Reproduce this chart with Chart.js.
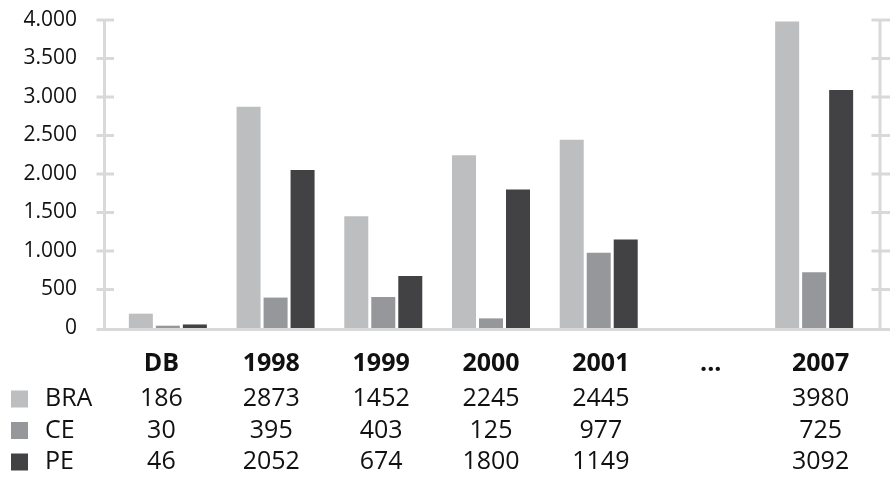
<!DOCTYPE html>
<html>
<head>
<meta charset="utf-8">
<script src="https://cdn.jsdelivr.net/npm/chart.js@4/dist/chart.umd.min.js"></script>
<style>
  html, body { margin: 0; padding: 0; background: #ffffff; }
  #wrap { width: 895px; height: 483px; }
</style>
</head>
<body>
<div id="wrap"><canvas id="c" width="895" height="483"></canvas></div>
<script>
// Categories along the x axis (also the header row of the data table)
const categories = ['DB', '1998', '1999', '2000', '2001', '...', '2007'];

// Series
const seriesNames = ['BRA', 'CE', 'PE'];
const braValues = [186, 2873, 1452, 2245, 2445, null, 3980];
const ceValues  = [30, 395, 403, 125, 977, null, 725];
const peValues  = [46, 2052, 674, 1800, 1149, null, 3092];

// Value axis ticks
const yTicks = [0, 500, 1000, 1500, 2000, 2500, 3000, 3500, 4000];

const seriesColors = ['#bdbec0', '#96979a', '#424244'];
const axisColor = '#d9d9d9';
const textColor = '#111111';
const FONT = '"Open Sans", "Noto Sans", sans-serif';

function fmtThousands(v) {
  return String(v).replace(/\B(?=(\d{3})+(?!\d))/g, '.');
}

// Axis frame with crossing tick marks, plus the data table beneath the plot
const frameAndTable = {
  id: 'frameAndTable',
  afterDatasetsDraw(chart) {
    const { ctx, chartArea, scales } = chart;
    const y = scales.y, x = scales.x;
    const axisL = chartArea.left - 9.5;
    const axisR = chartArea.right + 12;
    const yTop = y.getPixelForValue(yTicks[yTicks.length - 1]);
    const yZero = y.getPixelForValue(0);

    ctx.save();
    ctx.strokeStyle = axisColor;
    ctx.lineWidth = 3;
    ctx.beginPath();
    ctx.moveTo(axisL, yTop - 1.5); ctx.lineTo(axisL, yZero + 1.5);
    ctx.moveTo(axisR, yTop - 1.5); ctx.lineTo(axisR, yZero + 1.5);
    yTicks.forEach(v => {
      if (v === 0) return;
      const py = y.getPixelForValue(v);
      ctx.moveTo(axisL - 8, py); ctx.lineTo(axisL + 9.5, py);
      ctx.moveTo(axisR - 8.5, py); ctx.lineTo(axisR + 10, py);
    });
    ctx.moveTo(axisL - 8, yZero + 1.5); ctx.lineTo(axisR + 10, yZero + 1.5);
    ctx.stroke();

    // data table
    const series = [braValues, ceValues, peValues];
    const mid = (x.getPixelForValue(0) + x.getPixelForValue(categories.length - 1)) / 2;
    const colX = i => mid + (x.getPixelForValue(i) - mid) * 1.02;
    const headerY = 364;
    const rowY = [399, 430.5, 462];

    ctx.fillStyle = textColor;
    ctx.textAlign = 'center';
    ctx.textBaseline = 'middle';
    ctx.font = 'bold 25px ' + FONT;
    categories.forEach((c, i) => ctx.fillText(c, colX(i), headerY));

    ctx.font = '25px ' + FONT;
    series.forEach((vals, r) => {
      ctx.fillStyle = seriesColors[r];
      ctx.fillRect(11, rowY[r] - 8.5, 17, 17);
      ctx.fillStyle = textColor;
      ctx.textAlign = 'left';
      ctx.fillText(seriesNames[r], 45, rowY[r]);
      ctx.textAlign = 'center';
      vals.forEach((v, i) => {
        if (v !== null) ctx.fillText(String(v), colX(i), rowY[r]);
      });
    });
    ctx.restore();
  }
};

function build() {
  new Chart(document.getElementById('c'), {
    type: 'bar',
    data: {
      labels: categories,
      datasets: [braValues, ceValues, peValues].map((d, i) => ({
        label: seriesNames[i],
        data: d,
        backgroundColor: seriesColors[i],
        borderWidth: 0,
        categoryPercentage: 0.752,
        barPercentage: 0.889
      }))
    },
    options: {
      responsive: false,
      animation: false,
      layout: { padding: { top: 20, bottom: 155, left: 0, right: 0 } },
      plugins: { legend: { display: false }, tooltip: { enabled: false } },
      scales: {
        x: { display: false },
        y: {
          position: 'left',
          min: 0, max: 4000,
          afterBuildTicks(scale) { scale.ticks = yTicks.map(v => ({ value: v })); },
          afterFit(scale) { scale.width = 114; },
          grid: { display: false, drawTicks: true, tickLength: 37 },
          border: { display: false },
          ticks: {
            padding: 0,
            color: textColor,
            font: { family: FONT, size: 21 },
            callback: v => fmtThousands(v)
          }
        },
        y2: {
          position: 'right',
          min: 0, max: 4000,
          afterFit(scale) { scale.width = 27; },
          grid: { display: false, drawTicks: false },
          border: { display: false },
          ticks: { display: false }
        }
      }
    },
    plugins: [frameAndTable]
  });
}

document.fonts.load('21px "Open Sans"').then(build, build);
</script>
</body>
</html>
